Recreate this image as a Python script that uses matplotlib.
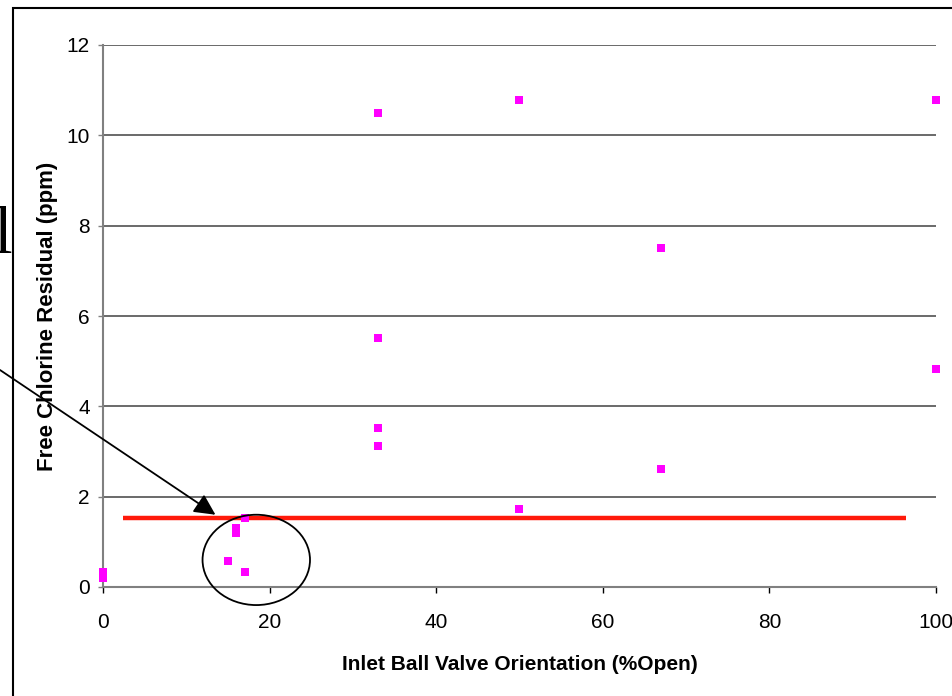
import matplotlib
matplotlib.use("Agg")
import matplotlib.pyplot as plt
from matplotlib.patches import Ellipse, Rectangle

plt.rcParams['font.family'] = ['Liberation Sans', 'DejaVu Sans']

# Data
valve_open = [0, 0, 15, 16, 16, 17, 17, 33, 33, 33, 33, 50, 50, 67, 67, 100, 100]
chlorine = [0.33, 0.2, 0.58, 1.31, 1.2, 1.53, 0.33, 10.49, 5.51, 3.52, 3.12, 10.78, 1.73, 7.5, 2.61, 10.78, 4.83]
threshold_x = [2.4, 96.4]
threshold_y = [1.53, 1.53]
xticks = [0, 20, 40, 60, 80, 100]
yticks = [0, 2, 4, 6, 8, 10, 12]

fig = plt.figure(figsize=(9.53, 6.96), dpi=100)
ax = fig.add_axes([103/953, 1-587/696, (936-103)/953, (587-45)/696])

ax.set_xlim(0, 100)
ax.set_ylim(0, 12)
ax.set_xticks(xticks)
ax.set_yticks(yticks)
ax.yaxis.grid(True, color='#505050', linewidth=1.2)
ax.set_axisbelow(True)
for s in ['top', 'right']:
    ax.spines[s].set_visible(False)
for s in ['left', 'bottom']:
    ax.spines[s].set_color('#808080')
    ax.spines[s].set_linewidth(1.5)
ax.tick_params(axis='both', direction='out', width=1, color='black', labelsize=15)
ax.tick_params(axis='x', length=4.5, pad=14)
ax.tick_params(axis='y', length=3.5, pad=6, color='#808080')

ax.plot(threshold_x, threshold_y, color='#FF1A0A', linewidth=3.2, zorder=3,
        solid_capstyle='butt')
ax.plot(valve_open, chlorine, linestyle='none', marker='s', markersize=6.2,
        color='#FF00FF', markeredgewidth=0, zorder=4, clip_on=False)

ax.set_xlabel('Inlet Ball Valve Orientation (%Open)', fontsize=15, fontweight='bold',
              labelpad=17)
ax.set_ylabel('Free Chlorine Residual (ppm)', fontsize=16, fontweight='bold',
              labelpad=6)

# Ellipse highlighting low readings
ell = Ellipse((18.4, 0.6), 12.9, 2.0, fill=False, edgecolor='black', linewidth=1.3,
              clip_on=False, zorder=5)
ax.add_patch(ell)

# Arrow from off-slide text
ax.annotate('', xy=(13.5, 1.6), xycoords='data',
            xytext=(0, 1 - 370/696), textcoords='figure fraction',
            arrowprops=dict(arrowstyle='-|>', color='black', lw=1.3,
                            mutation_scale=32, shrinkA=0, shrinkB=0),
            annotation_clip=False)

# Partial slide text and frame
fig.text(12/953, 1 - 253/696, 'l', fontsize=48, family='Liberation Serif',
         ha='right', va='baseline')
fig.patches.append(Rectangle((13/953, -0.1), 1.2, 1 - 8/696 + 0.1,
                             transform=fig.transFigure, fill=False,
                             edgecolor='black', linewidth=1.5, figure=fig))

fig.savefig('out.png', dpi=100)
